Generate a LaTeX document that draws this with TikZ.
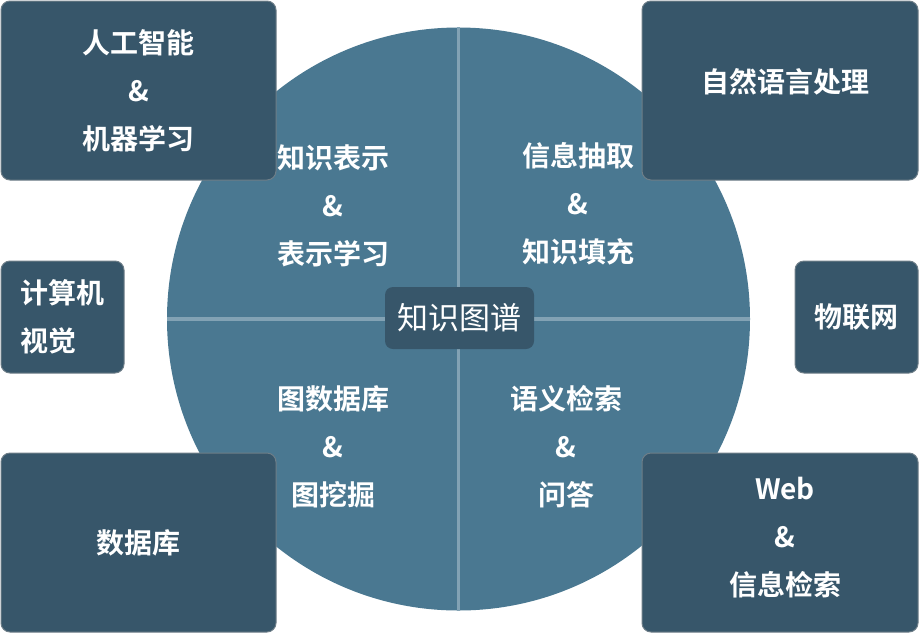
\documentclass[tikz,border=0pt]{standalone}
\usepackage{fontspec}
\newfontfamily\cjk{Noto Sans CJK SC}
\newfontfamily\cjkb{Noto Sans CJK SC Bold}
\definecolor{boxfill}{HTML}{37566A}
\definecolor{circfill}{HTML}{4A7891}
\definecolor{divline}{HTML}{82A2B4}
\definecolor{boxedge}{HTML}{6E7E88}
\begin{document}
\begin{tikzpicture}[x=1pt,y=-1pt,
  box/.style={draw=boxedge, line width=1pt, fill=boxfill, rounded corners=9pt, text=white,
    font=\cjkb\fontsize{28}{48}\selectfont, align=center, inner sep=0pt},
  qtext/.style={text=white, font=\cjkb\fontsize{28}{48}\selectfont, align=center, inner sep=0pt},
  divider/.style={draw=divline, line width=3.5pt}
]
\useasboundingbox (0,0) rectangle (919,633);
% circle
\node[circle, fill=circfill, minimum size=583pt, inner sep=0pt] (circ) at (458.5,319) {};
\draw[divider] (circ.north) -- (circ.south);
\draw[divider] (circ.west) -- (circ.east);
% center
\node[fill=boxfill, rounded corners=8pt, minimum width=149pt, minimum height=62pt, inner sep=0pt,
  text=white, font=\cjk\fontsize{31}{36}\selectfont] (kg) at (459.5,318) {知识图谱};
% quadrant texts
\node[qtext] (q1) at (333,206) {知识表示\\\&\\表示学习};
\node[qtext] (q2) at (578,204) {信息抽取\\\&\\知识填充};
\node[qtext] (q3) at (333,447) {图数据库\\\&\\图挖掘};
\node[qtext] (q4) at (566,447) {语义检索\\\&\\问答};
% outer boxes
\node[box, minimum width=275pt, minimum height=179pt] (ai) at (138.5,90.5) {人工智能\\\&\\机器学习};
\node[box, minimum width=276pt, minimum height=179pt] (nlp) at (780,90.5) {};
\node[qtext] (nlpt) at (785,82) {自然语言处理};
\node[box, minimum width=123pt, minimum height=112pt, align=left] (cv) at (62.5,317) {计算机\\视觉};
\node[box, minimum width=123pt, minimum height=112pt] (iot) at (856.5,317) {物联网};
\node[box, minimum width=275pt, minimum height=179pt] (db) at (138.5,542.5) {数据库};
\node[box, minimum width=276pt, minimum height=179pt] (web) at (780,542.5) {};
\node[qtext] (webt) at (785,537.5) {Web\\\&\\信息检索};
\end{tikzpicture}
\end{document}
